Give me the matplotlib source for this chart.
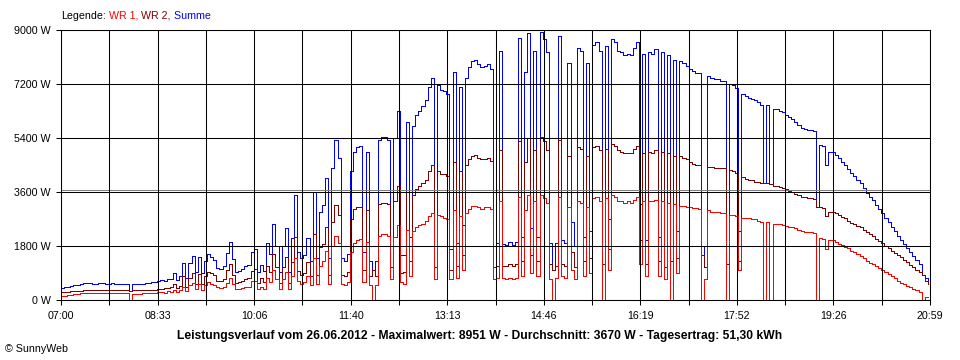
import numpy as np
import matplotlib
matplotlib.use("Agg")
import matplotlib.pyplot as plt

# Messzeitpunkte in Minuten ab 07:00 (alle 3 Minuten)
minuten = np.arange(0, 840, 3)

# Leistung WR 1 in W
wr1 = [
    150, 150, 160, 170, 200, 210, 220, 230, 230, 230,
    230, 230, 230, 240, 230, 230, 240, 230, 230, 230,
    230, 230, 0, 200, 200, 210, 220, 230, 240, 240,
    250, 260, 280, 250, 300, 270, 350, 280, 330, 450,
    300, 500, 580, 380, 550, 350, 500, 600, 550, 500,
    420, 400, 430, 580, 750, 520, 380, 380, 400, 420,
    450, 620, 650, 370, 450, 380, 750, 600, 1000, 700,
    370, 700, 950, 370, 800, 1400, 620, 550, 600, 800,
    500, 1400, 550, 1150, 1300, 1650, 550, 1800, 2150, 1900,
    550, 500, 600, 1600, 1900, 2000, 2050, 600, 1950, 500,
    0, 500, 2150, 2200, 2200, 2150, 700, 2100, 2500, 600,
    550, 2350, 800, 2300, 2450, 2500, 2550, 2650, 2800, 2900,
    700, 2850, 2800, 2750, 2700, 700, 3000, 750, 2800, 1000,
    2900, 3050, 3150, 3150, 3100, 3050, 3100, 3100, 3050, 700,
    750, 3300, 720, 700, 720, 700, 750, 3450, 800, 3000,
    3500, 900, 3300, 800, 3500, 3400, 3250, 700, 0, 750,
    3450, 800, 750, 3100, 1000, 700, 3300, 3250, 800, 3100,
    900, 3400, 3450, 3300, 0, 3400, 1000, 3500, 3450, 3300,
    3300, 3250, 3300, 3250, 3350, 3450, 1200, 3300, 800, 3300,
    3300, 3350, 800, 3300, 700, 3250, 0, 3200, 900, 3150,
    3150, 3100, 3100, 3080, 3070, 3050, 0, 700, 3000, 2950,
    2950, 2950, 2900, 2900, 0, 2850, 2850, 2800, 1000, 2750,
    2750, 2720, 2700, 2700, 2650, 2600, 0, 2600, 0, 2550,
    2550, 2520, 2500, 2480, 2450, 2420, 2400, 2350, 2300, 2280,
    2270, 2270, 2250, 0, 2070, 2050, 1700, 2000, 2000, 1930,
    1870, 1830, 1780, 1720, 1650, 1600, 1530, 1470, 1400, 1300,
    1250, 1200, 1130, 1070, 1000, 930, 870, 800, 730, 650,
    580, 520, 470, 420, 370, 320, 280, 0, 100, 100,
]

# Leistung WR 2 in W
wr2 = [
    260, 270, 280, 290, 300, 300, 310, 330, 330, 330,
    320, 320, 330, 330, 320, 320, 330, 320, 320, 320,
    320, 320, 310, 320, 320, 330, 330, 340, 340, 350,
    350, 360, 380, 400, 400, 420, 550, 400, 480, 800,
    430, 750, 900, 550, 880, 550, 800, 930, 900, 850,
    650, 620, 700, 1000, 1200, 850, 570, 600, 640, 700,
    720, 980, 1050, 560, 720, 600, 1150, 930, 1530, 1100,
    560, 1100, 1450, 560, 1270, 2100, 980, 850, 900, 1270,
    800, 2200, 850, 1780, 1870, 2420, 850, 2600, 3180, 2830,
    850, 800, 950, 2700, 3050, 3100, 3100, 1000, 3000, 800,
    1000, 800, 3200, 3250, 3250, 3200, 1100, 3300, 3800, 900,
    950, 3600, 1300, 3500, 3700, 3800, 3900, 4000, 4300, 4500,
    1100, 4300, 4200, 4200, 4150, 1000, 4600, 1150, 4300, 1500,
    4500, 4700, 4800, 4850, 4750, 4700, 4700, 4750, 4650, 1100,
    1150, 5000, 1150, 1150, 1200, 1150, 1200, 5300, 1300, 4600,
    5400, 1500, 5000, 1300, 5450, 5300, 5000, 1200, 1000, 1150,
    5350, 1200, 1150, 4800, 1600, 1100, 5100, 5050, 1300, 4800,
    1400, 5100, 5150, 5000, 1200, 5050, 1700, 5200, 5150, 5000,
    4950, 4900, 4900, 4900, 5050, 5150, 2000, 4900, 1200, 4950,
    4900, 5000, 1300, 4950, 1100, 4900, 1300, 4800, 1400, 4800,
    4750, 4700, 4600, 4550, 4500, 4500, 1500, 1100, 4450, 4450,
    4400, 4400, 4400, 4400, 1200, 4350, 4300, 4250, 1300, 4100,
    4050, 4000, 4000, 3950, 3950, 3900, 3900, 3900, 3880, 3800,
    3800, 3780, 3750, 3700, 3650, 3600, 3550, 3500, 3450, 3420,
    3400, 3400, 3380, 3100, 3100, 3080, 2800, 2930, 2930, 2900,
    2850, 2780, 2720, 2650, 2580, 2530, 2470, 2420, 2350, 2270,
    2200, 2130, 2050, 1970, 1900, 1800, 1730, 1650, 1570, 1500,
    1430, 1350, 1270, 1180, 1100, 1000, 930, 830, 640, 540,
]

# Summe beider Wechselrichter in W
summe = [
    410, 420, 440, 460, 500, 510, 530, 560, 560, 560,
    550, 550, 560, 570, 550, 550, 570, 550, 550, 550,
    550, 550, 310, 520, 520, 540, 550, 570, 580, 590,
    600, 620, 660, 650, 700, 690, 900, 680, 810, 1250,
    730, 1250, 1480, 930, 1430, 900, 1300, 1530, 1450, 1350,
    1070, 1020, 1130, 1580, 1950, 1370, 950, 980, 1040, 1120,
    1170, 1600, 1700, 930, 1170, 980, 1900, 1530, 2530, 1800,
    930, 1800, 2400, 930, 2070, 3500, 1600, 1400, 1500, 2070,
    1300, 3600, 1400, 2930, 3170, 4070, 1400, 4400, 5330, 4730,
    1400, 1300, 1550, 4300, 4950, 5100, 5150, 1600, 4950, 1300,
    1000, 1300, 5350, 5450, 5450, 5350, 1800, 5400, 6300, 1500,
    1500, 5950, 2100, 5800, 6150, 6300, 6450, 6650, 7100, 7400,
    1800, 7150, 7000, 6950, 6850, 1700, 7600, 1900, 7100, 2500,
    7400, 7750, 7950, 8000, 7850, 7750, 7800, 7850, 7700, 1800,
    1900, 8300, 1870, 1850, 1920, 1850, 1950, 8750, 2100, 7600,
    8900, 2400, 8300, 2100, 8950, 8700, 8250, 1900, 1000, 1900,
    8800, 2000, 1900, 7900, 2600, 1800, 8400, 8300, 2100, 7900,
    2300, 8500, 8600, 8300, 1200, 8450, 2700, 8700, 8600, 8300,
    8250, 8150, 8200, 8150, 8400, 8600, 3200, 8200, 2000, 8250,
    8200, 8350, 2100, 8250, 1800, 8150, 1300, 8000, 2300, 7950,
    7900, 7800, 7700, 7630, 7570, 7550, 1500, 1800, 7450, 7400,
    7350, 7350, 7300, 7300, 1200, 7200, 7150, 7050, 2300, 6850,
    6800, 6720, 6700, 6650, 6600, 6500, 3900, 6500, 3880, 6350,
    6350, 6300, 6250, 6180, 6100, 6020, 5950, 5850, 5750, 5700,
    5670, 5670, 5630, 3100, 5170, 5130, 4500, 4930, 4930, 4830,
    4720, 4610, 4500, 4370, 4230, 4130, 4000, 3890, 3750, 3570,
    3450, 3330, 3180, 3040, 2900, 2730, 2600, 2450, 2300, 2150,
    2010, 1870, 1740, 1600, 1470, 1320, 1210, 830, 740, 640,
]

assert len(wr1) == len(wr2) == len(summe) == len(minuten)

durchschnitt = 3670
y_ticks = [0, 1800, 3600, 5400, 7200, 9000]
y_labels = ["0 W", "1800 W", "3600 W", "5400 W", "7200 W", "9000 W"]
x_labels = ["07:00", "08:33", "10:06", "11:40", "13:13",
            "14:46", "16:19", "17:52", "19:26", "20:59"]
tag_ende = 839  # 20:59 in Minuten ab 07:00

titel = ("Leistungsverlauf vom 26.06.2012 - Maximalwert: 8951 W - "
         "Durchschnitt: 3670 W - Tagesertrag: 51,30 kWh")

plt.rcParams["font.family"] = ["Liberation Sans", "DejaVu Sans"]
plt.rcParams["font.size"] = 7.7

fig = plt.figure(figsize=(9.6, 3.6), dpi=100)
ax = fig.add_axes([61 / 960, 60 / 360, 869 / 960, 270 / 360])

# Kurven (Summe unten, WR 1 oben)
ax.plot(minuten, summe, color="#0000ff", lw=0.55, drawstyle="steps-post",
        antialiased=False, zorder=2.0)
ax.plot(minuten, wr2, color="#800000", lw=0.55, drawstyle="steps-post",
        antialiased=False, zorder=2.1)
ax.plot(minuten, wr1, color="#ff0000", lw=0.55, drawstyle="steps-post",
        antialiased=False, zorder=2.2)

# Durchschnittslinie
ax.axhline(durchschnitt, color="#808080", lw=0.75, zorder=2.4)

ax.set_xlim(0, tag_ende)
ax.set_ylim(0, 9000)

grid_x = np.linspace(0, tag_ende, 19)
ax.set_xticks(grid_x)
labels = []
for i in range(len(grid_x)):
    labels.append(x_labels[i // 2] if i % 2 == 0 else "")
ax.set_xticklabels(labels)
ax.set_yticks(y_ticks)
ax.set_yticklabels(y_labels)

ax.set_axisbelow(False)
ax.grid(True, color="black", lw=0.75)
ax.tick_params(axis="both", direction="out", length=3.6, width=0.75,
               color="black", labelcolor="black")
ax.tick_params(axis="x", pad=4)
ax.tick_params(axis="y", pad=4)
for sp in ax.spines.values():
    sp.set_color("black")
    sp.set_linewidth(0.75)

# Legende oben links, farbig
fig.canvas.draw()
renderer = fig.canvas.get_renderer()
x0 = 61 / 960
y0 = 1 - 16 / 360
teile = [("Legende:", "black"), (" WR 1,", "#ff0000"),
         (" WR 2,", "#800000"), (" Summe", "#0000ff")]
for text, farbe in teile:
    t = fig.text(x0, y0, text, color=farbe, va="center", ha="left")
    bb = t.get_window_extent(renderer=renderer)
    x0 = bb.x1 / fig.bbox.width

fig.text(0.5, 1 - 336 / 360, titel, ha="center", va="center",
         fontweight="bold", fontsize=8.7)
fig.text(5 / 960, 1 - 349 / 360, "\u00a9 SunnyWeb", ha="left", va="center")

fig.savefig("out.png", dpi=100)
